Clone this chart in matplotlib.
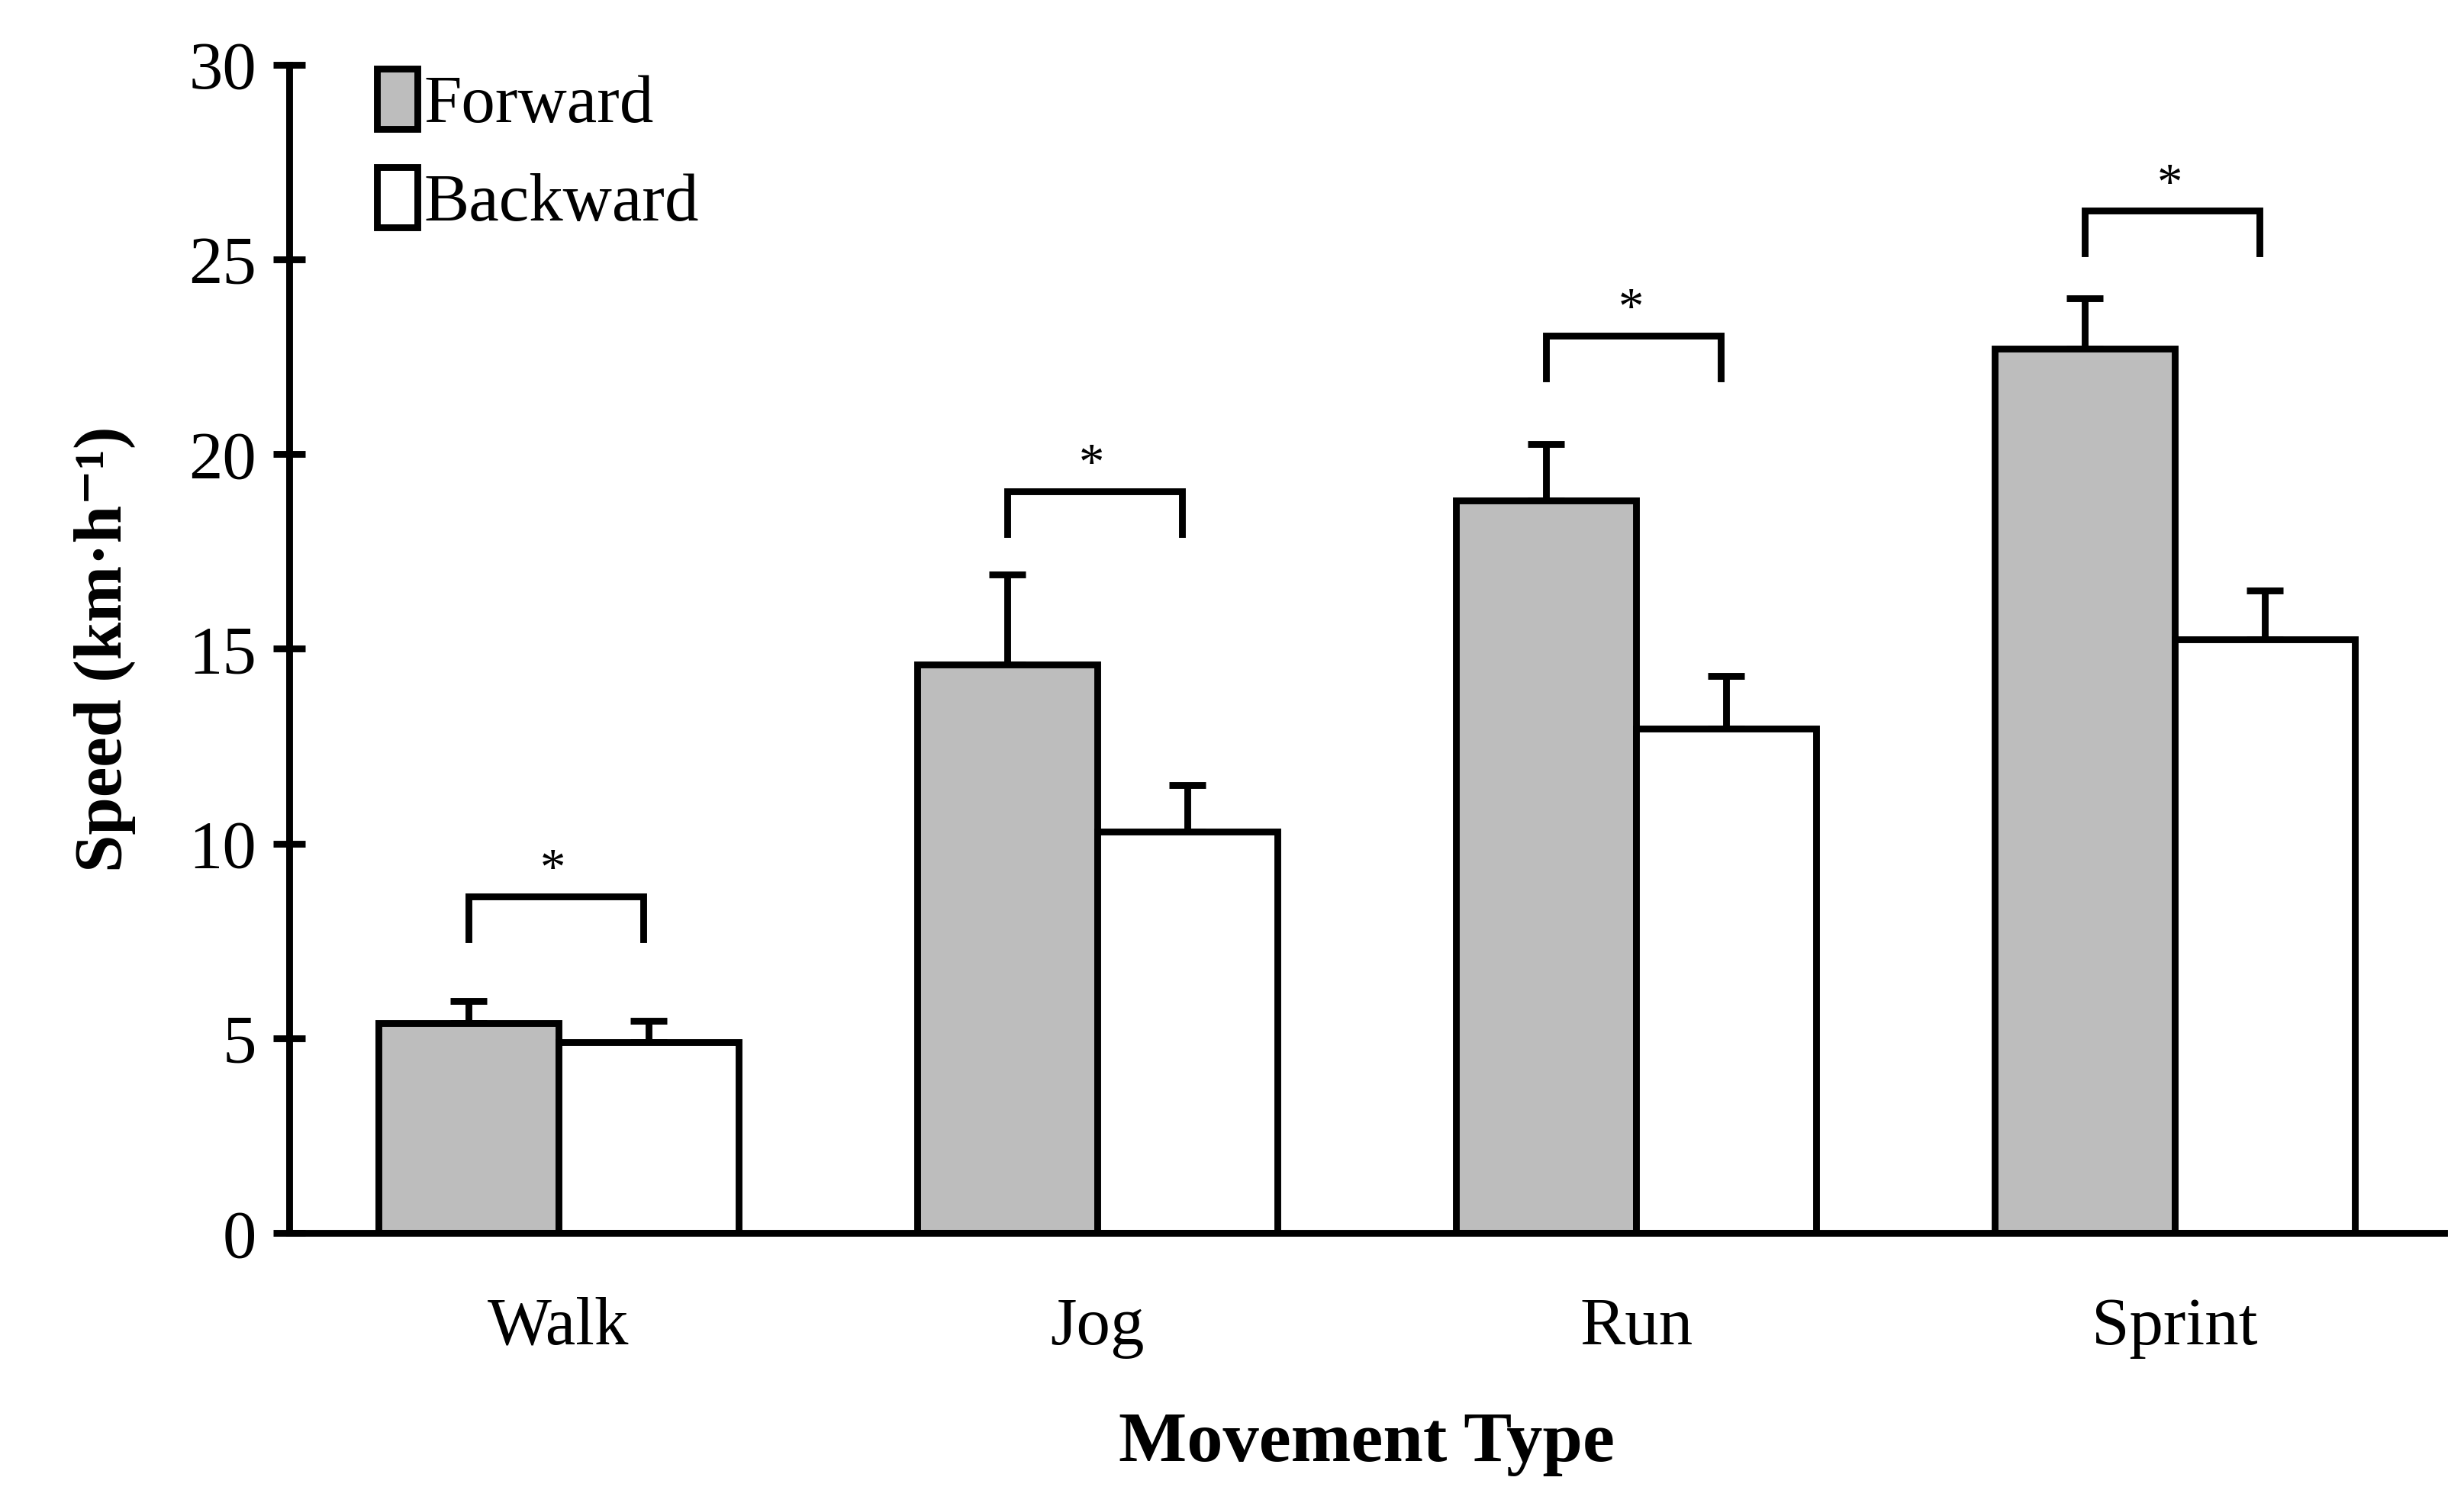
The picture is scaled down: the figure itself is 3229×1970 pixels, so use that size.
import matplotlib
matplotlib.use("Agg")
import matplotlib.pyplot as plt
import numpy as np

plt.rcParams['font.family'] = ['Liberation Serif', 'DejaVu Serif']

movements = ["Walk", "Jog", "Run", "Sprint"]

forward = [5.4, 14.6, 18.8, 22.7]
forward_sd = [0.55, 2.3, 1.45, 1.3]

backward = [4.9, 10.3, 12.95, 15.25]
backward_sd = [0.55, 1.2, 1.35, 1.25]

# significance brackets (top of bracket, in km/h)
sig_top = [8.65, 19.05, 23.05, 26.25]

x = np.arange(len(movements))
width = 0.334
lw = 3.2

fig = plt.figure(figsize=(16.15, 9.85), dpi=200)
ax = fig.add_axes([0.1173, 0.1796, 0.8744, 0.7774])

ax.bar(x - width/2, forward, width, color='#bdbdbd', edgecolor='black',
       linewidth=lw, label="Forward", zorder=2)
ax.bar(x + width/2, backward, width, color='white', edgecolor='black',
       linewidth=lw, label="Backward", zorder=2)

ax.errorbar(x - width/2, forward, yerr=[np.zeros(4), forward_sd], fmt='none',
            ecolor='black', elinewidth=lw, capsize=8.5, capthick=lw, zorder=1)
ax.errorbar(x + width/2, backward, yerr=[np.zeros(4), backward_sd], fmt='none',
            ecolor='black', elinewidth=lw, capsize=8.5, capthick=lw, zorder=1)

for xi, top in zip(x, sig_top):
    x0, x1 = xi - width/2, xi + width/2 - 0.01
    ax.plot([x0, x0, x1, x1], [top - 1.1, top, top, top - 1.1],
            color='black', linewidth=lw, solid_joinstyle='miter')
    ax.text(xi - 0.01, top + 0.05, "*", ha='center', va='bottom', fontsize=24)

ax.set_xlim(-0.5, 3.5)
ax.set_ylim(0, 30)
ax.set_yticks(np.arange(0, 31, 5))
ax.set_xticks(x)
ax.set_xticklabels(movements)

for side in ['top', 'right']:
    ax.spines[side].set_visible(False)
ax.spines['left'].set_linewidth(lw)
ax.spines['bottom'].set_linewidth(lw)

ax.tick_params(axis='y', direction='inout', length=15, width=lw, labelsize=32, pad=8)
ax.tick_params(axis='x', length=0, labelsize=32, pad=30)

ax.set_ylabel("Speed (km·h⁻¹)", fontsize=32, fontweight='bold', labelpad=25)
ax.set_xlabel("Movement Type", fontsize=34, fontweight='bold', labelpad=25)

leg = ax.legend(loc='upper left', bbox_to_anchor=(0.028, 1.02), frameon=False,
                fontsize=32, handlelength=0.6, handleheight=1.0,
                handletextpad=0.1, labelspacing=0.45, borderaxespad=0)

fig.savefig("out.png", dpi=200)
